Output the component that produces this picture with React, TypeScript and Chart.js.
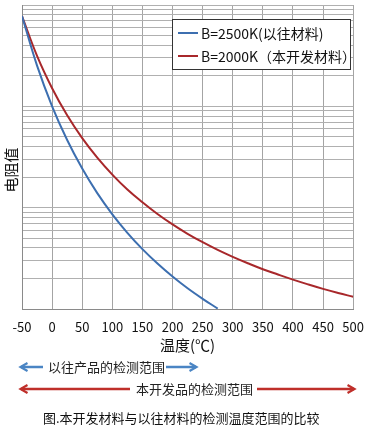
import React, { useEffect, useRef } from "react";
import { Chart, registerables } from "chart.js";

Chart.register(...registerables);

// Temperature (°C) sample points, resistance
const blueTemps = [-50, -25, 0, 25, 50, 75, 100, 125, 150, 175, 200, 225, 250, 275];
const blueValues = [778, 252, 100, 46.5, 24.3, 13.9, 8.6, 5.65, 3.9, 2.81, 2.09, 1.6, 1.26, 1.01];
const redTemps = [-50, -25, 0, 25, 50, 75, 100, 125, 150, 175, 200, 225, 250, 275, 300, 325, 350, 375, 400, 425, 450, 475, 500];
const redValues = [778, 315, 151, 81.6, 48.6, 31.2, 21.2, 15.1, 11.3, 8.65, 6.83, 5.52, 4.56, 3.83, 3.27, 2.83, 2.47, 2.19, 1.95, 1.75, 1.58, 1.44, 1.32];
const blueLabel = "B=2500K(以往材料)";
const redLabel = "B=2000K（本开发材料）";
const xTicks = [-50, 0, 50, 100, 150, 200, 250, 300, 350, 400, 450, 500];
const yGrid = [1, 2, 3, 4, 5, 6, 7, 8, 9, 10, 20, 30, 40, 50, 60, 70, 80, 90, 100, 200, 300, 400, 500, 600, 700, 800, 900, 1000];
const yTitle = "电阻值";
const xTitle = "温度(℃)";
const blueRange = "以往产品的检测范围";
const redRange = "本开发品的检测范围";
const caption = "图.本开发材料与以往材料的检测温度范围的比较";

const BLUE = "#3d6fb0";
const RED = "#a8282b";
const FONT = "'Noto Sans CJK SC', 'Noto Sans', sans-serif";

const overlayPlugin = {
  id: "overlay",
  afterDraw(chart: any) {
    const ctx = chart.ctx;
    const area = chart.chartArea;
    // y-axis title
    ctx.save();
    ctx.translate(11, area.top + 165);
    ctx.rotate(-Math.PI / 2);
    ctx.font = `15px ${FONT}`;
    ctx.fillStyle = "#111";
    ctx.textAlign = "center";
    ctx.textBaseline = "middle";
    ctx.fillText(yTitle, 0, 0);
    ctx.restore();

    // legend box
    const bx = area.left + 150;
    const by = area.top + 14;
    const bw = 178;
    const bh = 50;
    ctx.save();
    ctx.fillStyle = "#fff";
    ctx.fillRect(bx, by, bw, bh);
    ctx.strokeStyle = "#333";
    ctx.lineWidth = 1;
    ctx.strokeRect(bx + 0.5, by + 0.5, bw, bh);
    chart.data.datasets.forEach((ds: any, i: number) => {
      const y = by + 14 + i * 23;
      ctx.strokeStyle = ds.borderColor;
      ctx.lineWidth = 2;
      ctx.beginPath();
      ctx.moveTo(bx + 6, y);
      ctx.lineTo(bx + 26, y);
      ctx.stroke();
      ctx.fillStyle = "#111";
      ctx.font = `14px ${FONT}`;
      ctx.textAlign = "left";
      ctx.textBaseline = "middle";
      ctx.fillText(ds.label, bx + 29, y + 1);
    });
    ctx.restore();
  },
};

export default function App() {
  const ref = useRef<HTMLCanvasElement>(null);
  useEffect(() => {
    if (!ref.current) return;
    const chart = new Chart(ref.current, {
      type: "line",
      data: {
        datasets: [
          {
            label: blueLabel,
            data: blueTemps.map((t, i) => ({ x: t, y: blueValues[i] })),
            borderColor: BLUE,
            borderWidth: 2,
            pointRadius: 0,
            tension: 0.4,
            fill: false,
          },
          {
            label: redLabel,
            data: redTemps.map((t, i) => ({ x: t, y: redValues[i] })),
            borderColor: RED,
            borderWidth: 2,
            pointRadius: 0,
            tension: 0.4,
            fill: false,
          },
        ],
      },
      options: {
        responsive: false,
        animation: false,
        layout: { padding: { left: 0, right: 18, top: 5, bottom: 0 } },
        plugins: { legend: { display: false }, tooltip: { enabled: false } },
        scales: {
          x: {
            type: "linear",
            min: -50,
            max: 500,
            afterBuildTicks: (s: any) => {
              s.ticks = xTicks.map((v) => ({ value: v }));
            },
            afterFit: (s: any) => {
              s.height = 45;
            },
            grid: { color: "#a4a4a4", lineWidth: 1, drawTicks: false },
            border: { color: "#8a8a8a" },
            ticks: {
              padding: 10,
              color: "#111",
              font: { family: FONT, size: 13 },
              maxRotation: 0,
              autoSkip: false,
            },
            title: {
              display: true,
              text: xTitle,
              color: "#111",
              font: { family: FONT, size: 15 },
              padding: { top: 0, bottom: 0 },
            },
          },
          y: {
            type: "logarithmic",
            min: 1,
            max: 1000,
            afterBuildTicks: (s: any) => {
              s.ticks = yGrid.map((v) => ({ value: v }));
            },
            afterFit: (s: any) => {
              s.width = 22;
            },
            grid: { color: "#b0b0b0", lineWidth: 1, drawTicks: false },
            border: { color: "#8a8a8a" },
            ticks: { display: false },
          },
        },
      },
      plugins: [overlayPlugin],
    } as any);
    return () => chart.destroy();
  }, []);

  const textStyle: React.CSSProperties = {
    position: "absolute",
    fontFamily: FONT,
    fontSize: 13,
    color: "#222",
    lineHeight: "16px",
    whiteSpace: "nowrap",
  };

  return (
    <div style={{ position: "absolute", left: 0, top: 0, width: 374, height: 435, background: "#fff" }}>
      <canvas ref={ref} width={374} height={354} style={{ display: "block", width: 374, height: 354 }} />
      <svg width={374} height={435} style={{ position: "absolute", left: 0, top: 0 }}>
        <defs>
          <marker id="hb" markerWidth="10" markerHeight="10" refX="7" refY="5" orient="auto-start-reverse" markerUnits="userSpaceOnUse">
            <path d="M0.5,1 L7.5,5 L0.5,9" fill="none" stroke={"#4a85c4"} strokeWidth={2.2} />
          </marker>
          <marker id="hr" markerWidth="10" markerHeight="10" refX="7" refY="5" orient="auto-start-reverse" markerUnits="userSpaceOnUse">
            <path d="M0.5,1 L7.5,5 L0.5,9" fill="none" stroke={"#bf2f2a"} strokeWidth={2.2} />
          </marker>
        </defs>
        <line x1={21} y1={367} x2={43} y2={367} stroke="#4a85c4" strokeWidth={2.5} markerStart="url(#hb)" />
        <line x1={166} y1={367} x2={196} y2={367} stroke="#4a85c4" strokeWidth={2.5} markerEnd="url(#hb)" />
        <line x1={21} y1={389} x2={130} y2={389} stroke="#bf2f2a" strokeWidth={2.5} markerStart="url(#hr)" />
        <line x1={257} y1={389} x2={354} y2={389} stroke="#bf2f2a" strokeWidth={2.5} markerEnd="url(#hr)" />
      </svg>
      <div style={{ ...textStyle, left: 48, top: 359 }}>{blueRange}</div>
      <div style={{ ...textStyle, left: 136, top: 381 }}>{redRange}</div>
      <div style={{ ...textStyle, left: 43, top: 410, color: "#111" }}>{caption}</div>
    </div>
  );
}
